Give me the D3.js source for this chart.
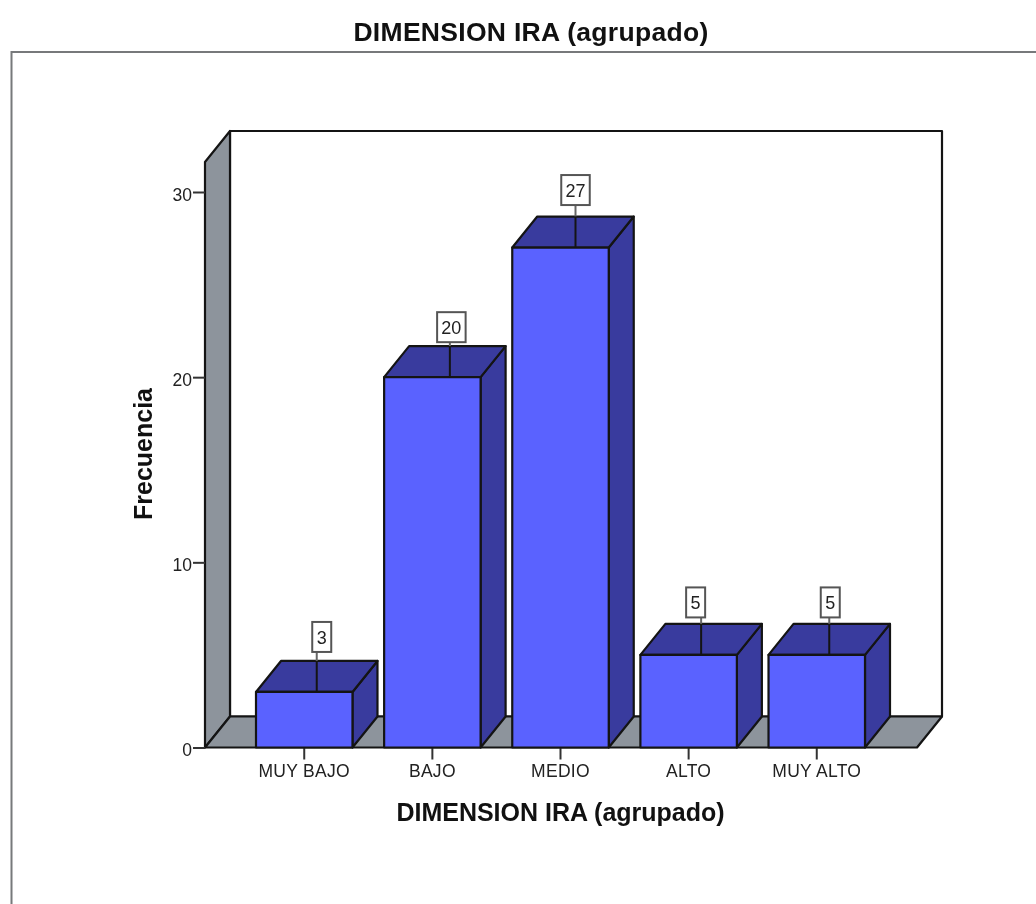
<!DOCTYPE html>
<html><head><meta charset="utf-8">
<script src="https://cdn.jsdelivr.net/npm/d3@7/dist/d3.min.js"></script>
<style>html,body{margin:0;padding:0;background:#fff}svg{display:block;filter:blur(0.5px)}text{font-family:"Liberation Sans",Arial,sans-serif}</style>
</head><body><svg id="c" width="1036" height="904"></svg>
<script>
const categories = ["MUY BAJO","BAJO","MEDIO","ALTO","MUY ALTO"];
const frequencies = [3,20,27,5,5];
const yTicks = [0,10,20,30];
const titleText = "DIMENSION IRA (agrupado)";
const yTitle = "Frecuencia";

// label placement nudges, relative to each bar's top-face centre
const leaderNudge = [0,5,2.5,0,0];
const boxNudge = [5,6.5,2.5,-5.5,1];
const boxGap = [40,35,42.5,37.5,37.5];

const ink = "#141414", front = "#5a62ff", dark = "#393b9e", gray = "#8d949c";
const dx = 25, dy = -31;
const svg = d3.select("#c");
const x = d3.scaleBand().domain(categories).range([256,865]).paddingInner(0.247).paddingOuter(0);
const y = d3.scaleLinear().domain([0,30]).range([747.5,192]);
const floorL = 205, floorR = 917, wallTop = 162;
const poly = (pts,fill,sw=2.2)=>svg.append("path").attr("d","M"+pts.map(p=>p.join(",")).join("L")+"Z")
  .attr("fill",fill).attr("stroke",ink).attr("stroke-width",sw).attr("stroke-linejoin","round");

// frame
svg.append("path").attr("d","M11.5,904V52H1036").attr("fill","none").attr("stroke","#77797b").attr("stroke-width",2);
// title
svg.append("text").attr("x",531).attr("y",40.5).attr("text-anchor","middle").attr("font-size",26.5).attr("font-weight","bold").attr("letter-spacing",0.3).attr("fill","#111").text(titleText);

// walls
poly([[floorL+dx,wallTop+dy],[floorR+dx,wallTop+dy],[floorR+dx,y(0)+dy],[floorL+dx,y(0)+dy]],"#fff");
poly([[floorL,wallTop],[floorL+dx,wallTop+dy],[floorL+dx,y(0)+dy],[floorL,y(0)]],gray);
poly([[floorL,y(0)],[floorL+dx,y(0)+dy],[floorR+dx,y(0)+dy],[floorR,y(0)]],gray);

// axes
const yAxis = svg.append("g").attr("transform",`translate(${floorL},0)`).call(d3.axisLeft(y).tickValues(yTicks).tickSize(12).tickPadding(1).tickFormat(d3.format("d")));
yAxis.select(".domain").remove();
yAxis.selectAll("line").attr("stroke","#333").attr("stroke-width",2);
yAxis.selectAll("text").attr("font-size",17.5).attr("fill","#222").attr("dy",".47em").attr("font-family","Liberation Sans");
const xAxis = svg.append("g").attr("transform",`translate(0,${y(0)})`).call(d3.axisBottom(x).tickSize(12).tickPadding(5.5));
xAxis.select(".domain").remove();
xAxis.selectAll("line").attr("stroke","#333").attr("stroke-width",2);
xAxis.selectAll("text").attr("font-size",17.5).attr("letter-spacing",0.3).attr("fill","#222").attr("font-family","Liberation Sans");

// bars
categories.forEach((c,i)=>{
  const v = frequencies[i], x0 = x(c), x1 = x0+x.bandwidth(), yt = y(v), yb = y(0);
  poly([[x1,yt],[x1+dx,yt+dy],[x1+dx,yb+dy],[x1,yb]],dark);
  poly([[x0,yt],[x0+dx,yt+dy],[x1+dx,yt+dy],[x1,yt]],dark);
  poly([[x0,yt],[x1,yt],[x1,yb],[x0,yb]],front);
  const cx = (x0+x1)/2+dx/2, label = String(v), w = label.length>1?28.5:19, boxB = yt-boxGap[i];
  const lx = cx+leaderNudge[i], bx = cx+boxNudge[i];
  svg.append("line").attr("x1",lx).attr("x2",lx).attr("y1",yt+dy).attr("y2",boxB).attr("stroke","#666").attr("stroke-width",2);
  svg.append("line").attr("x1",lx).attr("x2",lx).attr("y1",yt).attr("y2",yt+dy).attr("stroke",ink).attr("stroke-width",2);
  svg.append("rect").attr("x",bx-w/2).attr("y",boxB-30).attr("width",w).attr("height",30).attr("fill","#fff").attr("stroke","#555").attr("stroke-width",2);
  svg.append("text").attr("x",bx).attr("y",boxB-8).attr("text-anchor","middle").attr("font-size",18).attr("fill","#222").text(label);
});

// axis titles
svg.append("text").attr("x",560.5).attr("y",820.5).attr("text-anchor","middle").attr("font-size",25).attr("font-weight","bold").attr("fill","#111").text(titleText);
svg.append("text").attr("transform","translate(152,454) rotate(-90)").attr("text-anchor","middle").attr("font-size",25).attr("font-weight","bold").attr("fill","#111").text(yTitle);
</script></body></html>
